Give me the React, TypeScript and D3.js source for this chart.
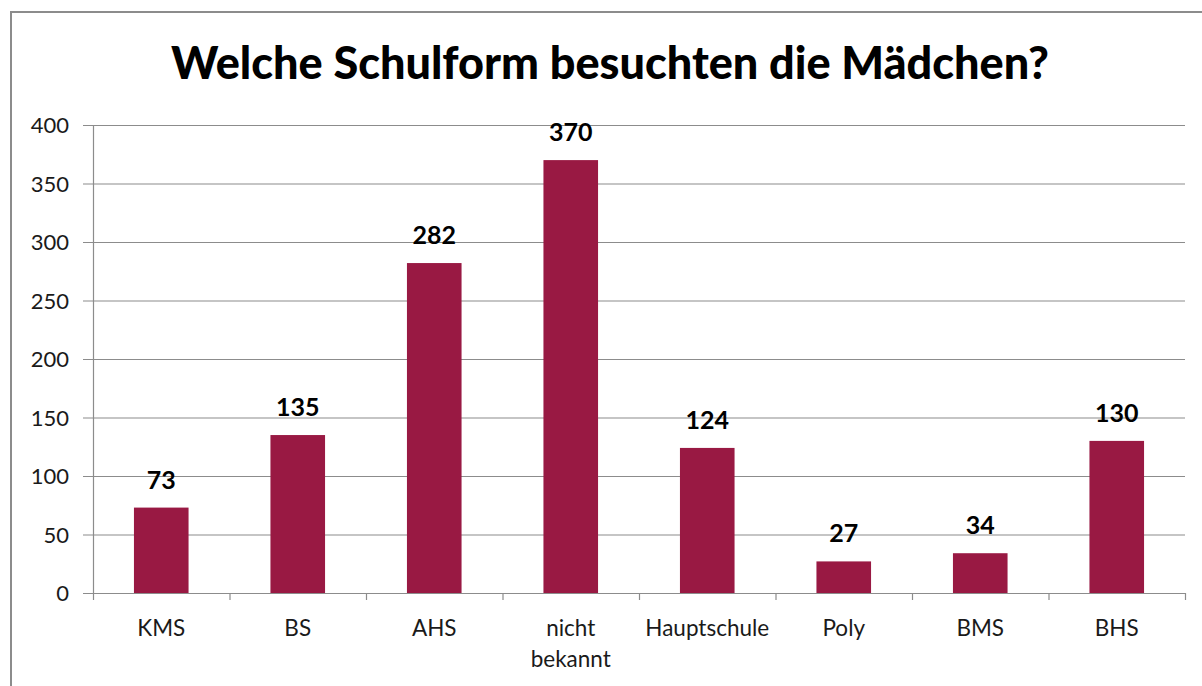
import React, { useRef, useEffect } from 'react';
import * as d3 from 'd3';

const categories = ['KMS', 'BS', 'AHS', 'nicht bekannt', 'Hauptschule', 'Poly', 'BMS', 'BHS'];
const values = [73, 135, 282, 370, 124, 27, 34, 130];
const yTicks = [0, 50, 100, 150, 200, 250, 300, 350, 400];
const title = 'Welche Schulform besuchten die Mädchen?';

const App = () => {
  const ref = useRef<SVGSVGElement | null>(null);

  useEffect(() => {
    if (!ref.current) return;
    const svg = d3.select(ref.current);
    svg.selectAll('*').remove();

    const width = 1202;
    const height = 686;
    const margin = { left: 93, right: 17, top: 125, bottom: 93 };
    const font = 'Lato, "Open Sans", sans-serif';

    svg.append('rect')
      .attr('width', width).attr('height', height).attr('fill', '#fff');

    // outer frame, cut off at right and bottom
    svg.append('rect')
      .attr('x', 11).attr('y', 12)
      .attr('width', width + 10).attr('height', height + 10)
      .attr('fill', 'none').attr('stroke', '#8c8c8c').attr('stroke-width', 2);

    svg.append('text')
      .attr('x', 610).attr('y', 79)
      .attr('text-anchor', 'middle')
      .attr('font-family', font).attr('font-weight', 900).attr('font-size', 45)
      .attr('fill', '#000')
      .text(title);

    const x = d3.scaleBand()
      .domain(categories)
      .range([margin.left, width - margin.right])
      .paddingInner(0.6).paddingOuter(0.3);

    const y = d3.scaleLinear()
      .domain([0, 400])
      .range([height - margin.bottom, margin.top]);

    // gridlines
    svg.append('g')
      .selectAll('line')
      .data(yTicks)
      .enter()
      .append('line')
      .attr('x1', margin.left - 10).attr('x2', width - margin.right)
      .attr('y1', d => y(d) + 0.5).attr('y2', d => y(d) + 0.5)
      .attr('stroke', '#8c8c8c').attr('stroke-width', 1.2);

    svg.append('g')
      .selectAll('text')
      .data(yTicks)
      .enter()
      .append('text')
      .attr('x', 69).attr('y', d => y(d) + 8)
      .attr('text-anchor', 'end')
      .attr('font-family', font).attr('font-size', 22).attr('fill', '#1a1a1a')
      .text(d => d);

    // bars
    svg.append('g')
      .selectAll('rect')
      .data(values)
      .enter()
      .append('rect')
      .attr('x', (d, i) => x(categories[i])!)
      .attr('y', d => y(d))
      .attr('width', x.bandwidth())
      .attr('height', d => y(0) - y(d))
      .attr('fill', '#991943');

    svg.append('g')
      .selectAll('text')
      .data(values)
      .enter()
      .append('text')
      .attr('x', (d, i) => x(categories[i])! + x.bandwidth() / 2)
      .attr('y', d => y(d) - 19)
      .attr('text-anchor', 'middle')
      .attr('font-family', font).attr('font-weight', 'bold').attr('font-size', 25)
      .attr('fill', '#000')
      .text(d => d);

    // axes lines
    svg.append('line')
      .attr('x1', margin.left + 0.5).attr('x2', margin.left + 0.5)
      .attr('y1', margin.top).attr('y2', y(0))
      .attr('stroke', '#8c8c8c').attr('stroke-width', 1.2);

    const step = x.step();
    const bounds = d3.range(categories.length + 1).map(i => margin.left + i * step);
    svg.append('g')
      .selectAll('line')
      .data(bounds)
      .enter()
      .append('line')
      .attr('x1', d => d + 0.5).attr('x2', d => d + 0.5)
      .attr('y1', y(0)).attr('y2', y(0) + 7)
      .attr('stroke', '#8c8c8c').attr('stroke-width', 1.2);

    // category labels
    const labels = svg.append('g')
      .selectAll('text')
      .data(categories)
      .enter()
      .append('text')
      .attr('x', d => x(d)! + x.bandwidth() / 2)
      .attr('y', 636)
      .attr('text-anchor', 'middle')
      .attr('font-family', font).attr('font-size', 22.5).attr('fill', '#1a1a1a');
    labels.each(function (d) {
      const t = d3.select(this);
      const parts = d === 'nicht bekannt' ? ['nicht', 'bekannt'] : [d];
      parts.forEach((p, i) => {
        t.append('tspan')
          .attr('x', x(d)! + x.bandwidth() / 2)
          .attr('dy', i === 0 ? 0 : 31)
          .text(p);
      });
    });
  }, []);

  return <svg ref={ref} width={1202} height={686} style={{ display: 'block', position: 'absolute', left: 0, top: 0 }} />;
};

export default App;
